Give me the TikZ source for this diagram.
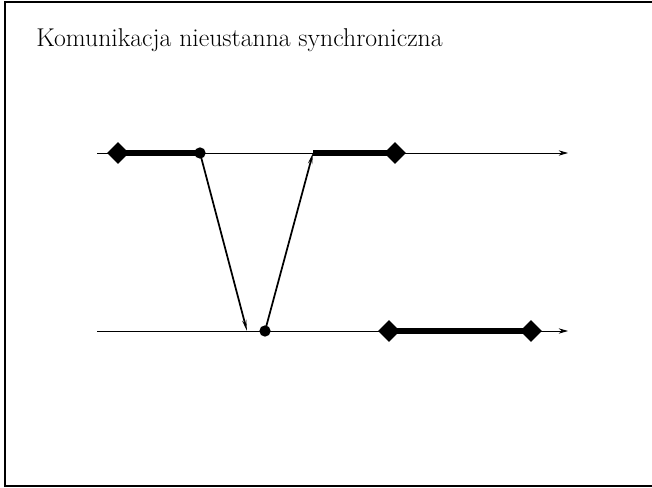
\documentclass[tikz,border=0pt]{standalone}
\usetikzlibrary{arrows.meta,shapes.geometric}

\tikzset{
  event/.style={diamond, fill, inner sep=0pt, minimum size=16.5pt},
  dot/.style={circle, fill, inner sep=0pt, minimum size=8.5pt},
  busy/.style={line width=4.5pt},
  msg/.style={line width=1.3pt, -{Stealth[length=8pt,width=3pt]}},
  proc/.style={line width=0.7pt, -{Stealth[length=7pt,width=4pt]}}
}

\begin{document}
\begin{tikzpicture}[x=0.75pt, y=-0.75pt]
    \useasboundingbox (0,0) rectangle (652,488);
    \draw[line width=1.6pt] (653,2) -- (5,2) -- (5,486) -- (653,486);

    \node[anchor=base west, inner sep=0pt, font=\fontsize{19.3}{23}\selectfont] (title) at (36,47)
        {Komunikacja nieustanna synchroniczna};

    % process time lines
    \coordinate (p1s) at (97,153);
    \coordinate (p1e) at (568,153);
    \coordinate (p2s) at (97,331);
    \coordinate (p2e) at (568,331);
    \draw[proc] (p1s) -- (p1e);
    \draw[proc] (p2s) -- (p2e);

    % events
    \node[event] (a1) at (118,153) {};
    \node[dot] (s1) at (200,153) {};
    \coordinate (s2) at (313,153);
    \node[event] (a2) at (395,153) {};
    \coordinate (r1) at (247,331);
    \node[dot] (r2) at (265,331) {};
    \node[event] (b1) at (389,331) {};
    \node[event] (b2) at (531,331) {};

    \draw[busy] (a1.center) -- (s1.center);
    \draw[busy] (s2) -- (a2.center);
    \draw[busy] (b1.center) -- (b2.center);

    % messages
    \draw[msg] (s1.center) -- (r1);
    \draw[msg] (r2.center) -- (s2);
\end{tikzpicture}
\end{document}
